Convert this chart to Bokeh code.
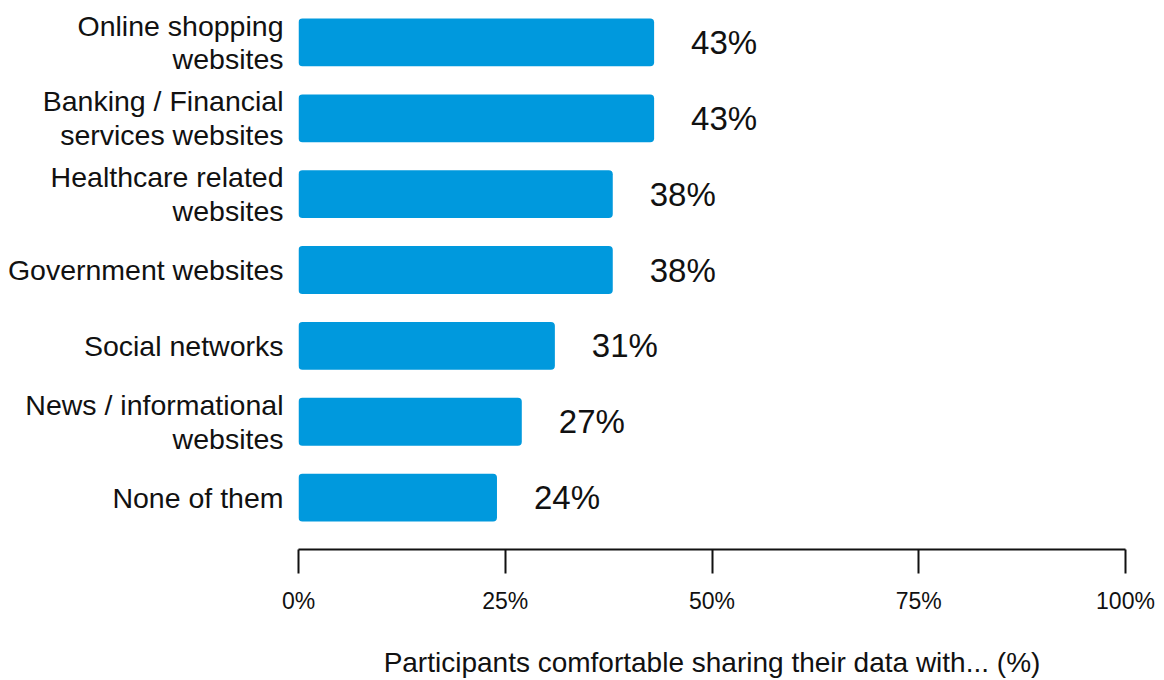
from bokeh.plotting import figure
from bokeh.models import ColumnDataSource, Range1d, FixedTicker
from bokeh.core.properties import value
from bokeh.embed import file_html
from bokeh.resources import INLINE

categories = [
    "Online shopping\nwebsites",
    "Banking / Financial\nservices websites",
    "Healthcare related\nwebsites",
    "Government websites",
    "Social networks",
    "News / informational\nwebsites",
    "None of them",
]
shares = [43, 43, 38, 38, 31, 27, 24]
x_ticks = [0, 25, 50, 75, 100]
x_tick_labels = ["0%", "25%", "50%", "75%", "100%"]
axis_title = "Participants comfortable sharing their data with... (%)"

FONT = "Liberation Sans"
BAR_COLOR = "#0099DD"
TEXT_COLOR = "#111111"

n = len(categories)
ys = list(range(n, 0, -1))
value_labels = [f"{v}%" for v in shares]

src = ColumnDataSource(dict(y=ys, share=shares, label=value_labels))

p = figure(
    width=1156, height=680,
    x_range=Range1d(0, 100),
    y_range=Range1d(1 - 52 / 76, n + 42 / 76),
    output_backend="svg", toolbar_location=None,
    min_border_left=298, min_border_right=31,
    min_border_top=0, min_border_bottom=129,
)
p.outline_line_color = None
p.xgrid.visible = False
p.ygrid.visible = False
p.background_fill_color = "white"
p.border_fill_color = "white"

p.hbar(y="y", left=0, right="share", height=0.63, source=src,
       fill_color=BAR_COLOR, line_color=None, border_radius=4)

p.text(x="share", y="y", text="label", source=src,
       x_offset=37, text_baseline="middle", text_align="left",
       text_font=value(FONT), text_font_size="33px", text_color=TEXT_COLOR)

# x axis
xa = p.xaxis[0]
xa.ticker = FixedTicker(ticks=x_ticks)
xa.major_label_overrides = {t: l for t, l in zip(x_ticks, x_tick_labels)}
xa.minor_tick_line_color = None
xa.major_tick_in = 0
xa.major_tick_out = 24
xa.major_tick_line_width = 2
xa.major_tick_line_color = TEXT_COLOR
xa.axis_line_width = 2
xa.axis_line_color = TEXT_COLOR
xa.major_label_text_font = FONT
xa.major_label_text_font_size = "23px"
xa.major_label_text_color = TEXT_COLOR
xa.major_label_standoff = 14
xa.axis_label = axis_title
xa.axis_label_text_font = FONT
xa.axis_label_text_font_size = "28px"
xa.axis_label_text_font_style = "normal"
xa.axis_label_text_color = TEXT_COLOR
xa.axis_label_standoff = 30

# y axis
ya = p.yaxis[0]
ya.ticker = FixedTicker(ticks=ys)
ya.major_label_overrides = {y: c for y, c in zip(ys, categories)}
ya.axis_line_color = None
ya.major_tick_line_color = None
ya.minor_tick_line_color = None
ya.major_tick_in = 0
ya.major_tick_out = 0
ya.major_label_standoff = 15
ya.major_label_text_font = FONT
ya.major_label_text_font_size = "28.5px"
ya.major_label_text_line_height = 1.05
ya.major_label_text_color = TEXT_COLOR

open("out.html", "w").write(file_html(p, INLINE))
